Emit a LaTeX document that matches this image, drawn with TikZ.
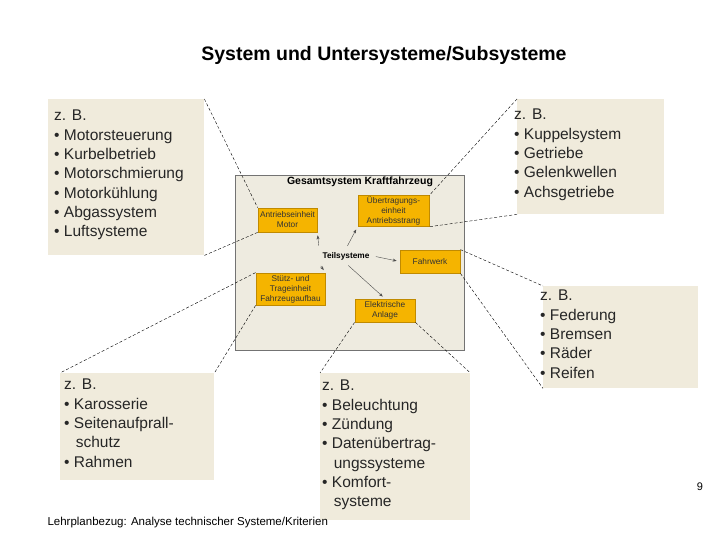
\documentclass[tikz,border=0pt]{standalone}
\usepackage{fontspec}
\setmainfont{Liberation Sans}
\usetikzlibrary{positioning,arrows.meta}
\definecolor{calloutbg}{HTML}{F0EBDC}
\definecolor{panelbg}{HTML}{EEEBE0}
\definecolor{boxfill}{HTML}{F5B400}
\definecolor{boxline}{HTML}{C08A00}
\tikzset{
    callout/.style={fill=calloutbg, anchor=north west, inner sep=0pt},
    calltext/.style={anchor=north west, align=left, inner sep=0pt,
        font=\fontsize{15.5}{19.3}\selectfont, text=black!85},
    part/.style={fill=boxfill, draw=boxline, thick, align=center, inner sep=1pt,
        font=\fontsize{8.3}{10}\selectfont, text=black!80},
    link/.style={thin, dash pattern=on 3pt off 2pt},
    pointer/.style={-{Stealth[length=4pt]}, thin, black!70, shorten <=3pt, shorten >=3pt}
}
\begin{document}
\begin{tikzpicture}[x=1pt,y=-1pt]
    \useasboundingbox (0,0) rectangle (720,540);

    % Title
    \node[font=\bfseries\fontsize{19.5}{23}\selectfont] (title) at (384,55) {System und Untersysteme/Subsysteme};

    % Central panel
    \draw[fill=panelbg, draw=black!55] (235,175) rectangle (464,350);
    \node[font=\bfseries\fontsize{10.5}{12}\selectfont] (whole) at (360,182) {Gesamtsystem Kraftfahrzeug};

    % Subsystem boxes
    \node[part, minimum width=59pt, minimum height=24pt] (engine) at (287.5,220) {Antriebseinheit\\Motor};
    \node[part, minimum width=71pt, minimum height=30pt] (drive) at (393.5,211) {Übertragungs-\\einheit\\Antriebsstrang};
    \node[part, minimum width=60pt, minimum height=23pt] (chassis) at (430,261.5) {Fahrwerk};
    \node[part, minimum width=69pt, minimum height=32pt] (body) at (290.5,289) {Stütz- und\\Trageinheit\\Fahrzeugaufbau};
    \node[part, minimum width=60pt, minimum height=23pt] (elec) at (385,310.5) {Elektrische\\Anlage};
    \node[font=\bfseries\fontsize{8.3}{10}\selectfont] (sub) at (346,256) {Teilsysteme};

    % Arrows from Teilsysteme
    \draw[pointer] (sub.north west) -- (engine.south east);
    \draw[pointer] (sub.north) -- (drive.south west);
    \draw[pointer] (sub.east) -- (chassis.west);
    \draw[pointer] (sub.south west) -- (body.north east);
    \draw[pointer] (sub.south) -- (elec.north);

    % Callouts
    \node[callout, minimum width=156pt, minimum height=156pt] (cEngine) at (48,99) {};
    \node[calltext] at (54,110) {z. B.\\
        • Motorsteuerung\\• Kurbelbetrieb\\• Motorschmierung\\• Motorkühlung\\• Abgassystem\\• Luftsysteme};
    \node[callout, minimum width=147pt, minimum height=115pt] (cDrive) at (517,99) {};
    \node[calltext] at (514,109) {z. B.\\
        • Kuppelsystem\\• Getriebe\\• Gelenkwellen\\• Achsgetriebe};
    \node[callout, minimum width=155pt, minimum height=102pt] (cChassis) at (543,286) {};
    \node[calltext] at (540,290) {z. B.\\
        • Federung\\• Bremsen\\• Räder\\• Reifen};
    \node[callout, minimum width=154pt, minimum height=107pt] (cBody) at (60,373) {};
    \node[calltext] at (64,379) {z. B.\\
        • Karosserie\\• Seitenaufprall-\\\hspace*{0.75em}schutz\\• Rahmen};
    \node[callout, minimum width=150pt, minimum height=147pt] (cElec) at (320,373) {};
    \node[calltext] at (322,380) {z. B.\\
        • Beleuchtung\\• Zündung\\• Datenübertrag-\\\hspace*{0.75em}ungssysteme\\• Komfort-\\\hspace*{0.75em}systeme};

    % Dashed zoom lines
    \draw[link] (cEngine.north east) -- (engine.north west);
    \draw[link] (cEngine.south east) -- (engine.south west);
    \draw[link] (cDrive.north west) -- (drive.north east);
    \draw[link] (cDrive.south west) -- (drive.south east);
    \draw[link] (chassis.north east) -- (cChassis.north west);
    \draw[link] (chassis.south east) -- (cChassis.south west);
    \draw[link] (body.north west) -- (cBody.north west);
    \draw[link] (body.south west) -- (cBody.north east);
    \draw[link] (elec.south west) -- (cElec.north west);
    \draw[link] (elec.south east) -- (cElec.north east);

    % Footer
    \node[font=\fontsize{11.5}{13}\selectfont, anchor=west] (footer) at (44,523) {Lehrplanbezug: Analyse technischer Systeme/Kriterien};
    \node[font=\fontsize{11}{13}\selectfont] (page) at (700,487) {9};
\end{tikzpicture}
\end{document}
